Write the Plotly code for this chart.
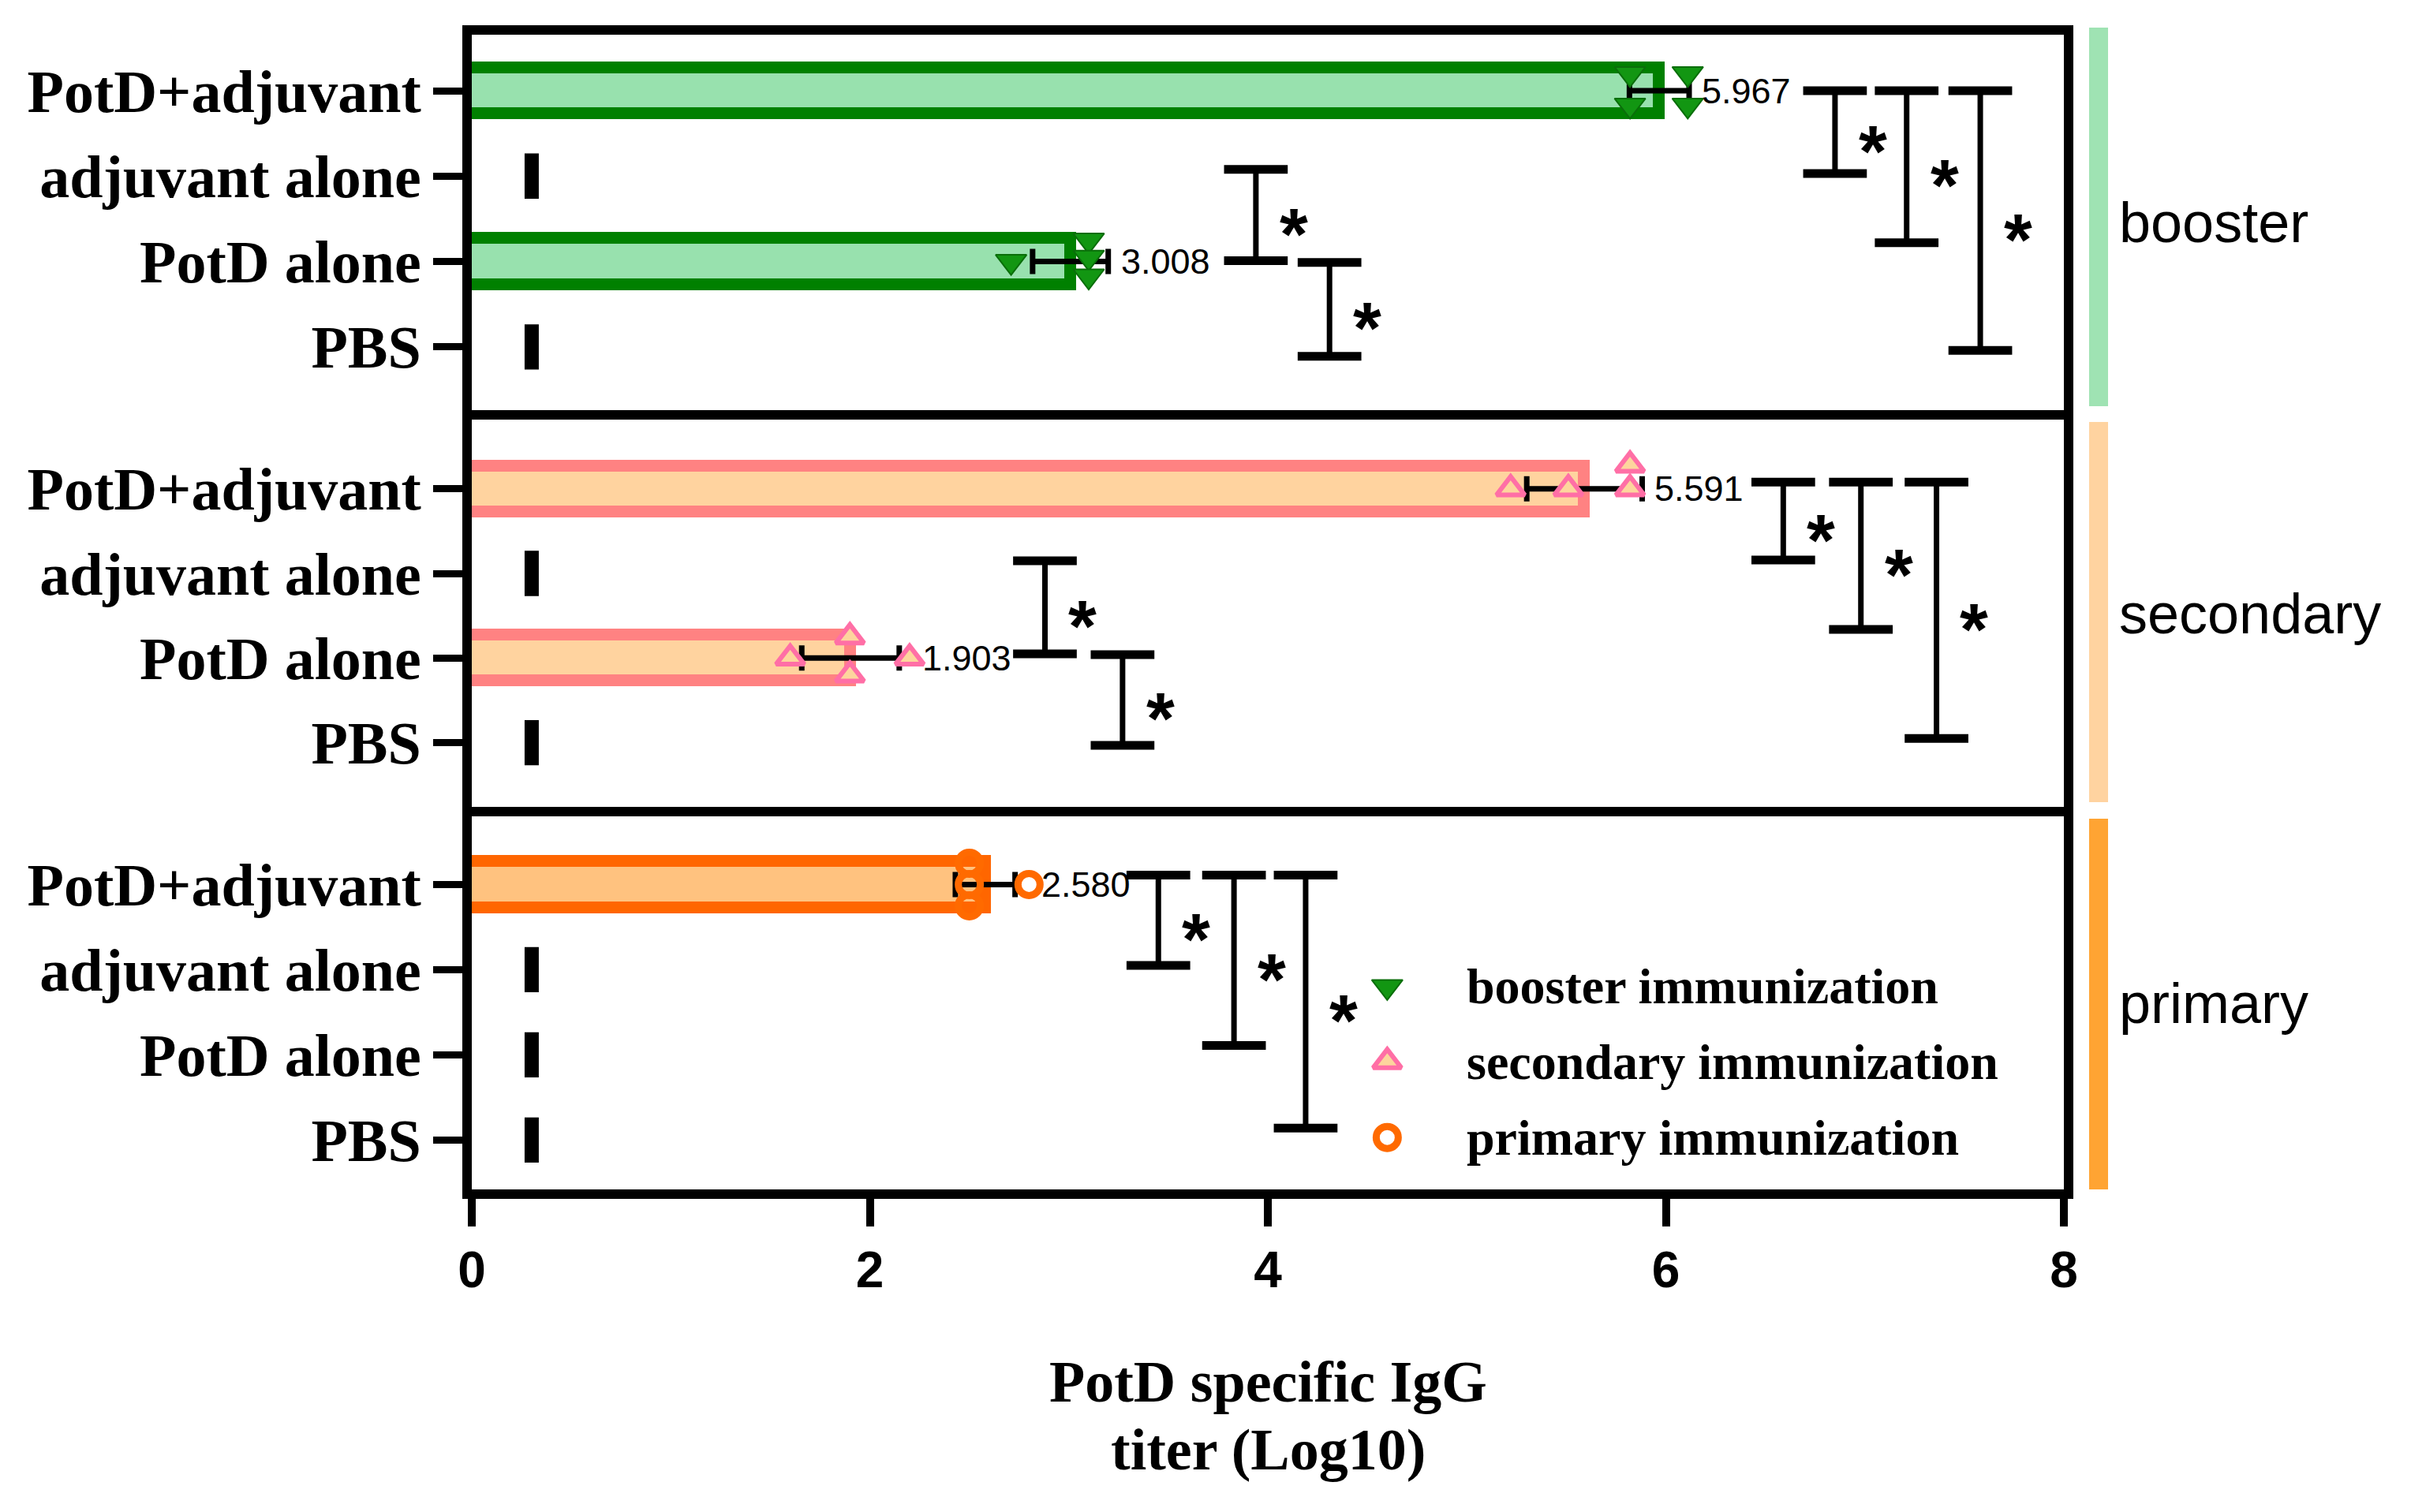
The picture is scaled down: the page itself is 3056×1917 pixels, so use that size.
import plotly.graph_objects as go

# ---------------- data ----------------
panels = ["booster", "secondary", "primary"]
categories = ["PotD+adjuvant", "adjuvant alone", "PotD alone", "PBS"]
lod = 0.301  # detection limit (log10 2)

booster_means = [5.967, 0.301, 3.008, 0.301]
secondary_means = [5.591, 0.301, 1.903, 0.301]
primary_means = [2.580, 0.301, 0.301, 0.301]

booster_sd = [0.15, 0.0, 0.19, 0.0]
secondary_sd = [0.29, 0.0, 0.245, 0.0]
primary_sd = [0.15, 0.0, 0.0, 0.0]

# individual animals (PotD+adjuvant, PotD alone)
booster_pts_adj = [5.82, 5.82, 6.11, 6.11]
booster_pts_potd = [2.71, 3.10, 3.10, 3.10]
secondary_pts_adj = [5.22, 5.51, 5.82, 5.82]
secondary_pts_potd = [1.60, 1.90, 1.90, 2.20]
primary_pts_adj = [2.50, 2.50, 2.50, 2.80]
primary_pts_potd = []

# significance brackets: x of bracket, from-row value, to-row value (row units)
booster_br_x = [6.85, 7.21, 7.58, 3.94, 4.31]
booster_br_from = [3.0, 3.0, 3.0, 2.08, 0.99]
booster_br_to = [2.03, 1.22, -0.04, 1.01, -0.11]
secondary_br_x = [6.59, 6.98, 7.36, 2.88, 3.27]
secondary_br_from = [3.08, 3.08, 3.08, 2.15, 1.04]
secondary_br_to = [2.16, 1.34, 0.05, 1.05, -0.03]
primary_br_x = [3.45, 3.83, 4.19]
primary_br_from = [3.11, 3.11, 3.11]
primary_br_to = [2.05, 1.11, 0.14]

legend_names = ["booster immunization", "secondary immunization", "primary immunization"]
x_ticks = [0, 2, 4, 6, 8]

# ---------------- layout constants ----------------
W, H = 3056, 1917
OFFX, OFFY = 4, 8  # page body offset compensation
PL, PR, PT, PB = 594 - OFFX, 2612 - OFFX, 44 - OFFY, 1508 - OFFY


def px_x(p):
    return (p - OFFX - PL) / (PR - PL)


def px_y(p):
    return (PB - (p - OFFY)) / (PB - PT)


domains = [[px_y(520), 1.0], [px_y(1035), px_y(520)], [0.0, px_y(1035)]]
yranges = [[-0.74, 3.656], [-0.87, 3.93], [-0.58, 3.80]]
rows = [3 - i for i in range(len(categories))]

jitter_adj = [[0.2, -0.17, 0.2, -0.17], [0.0, 0.0, 0.28, 0.0], [0.25, 0.0, -0.25, 0.0]]
jitter_potd = [[0.0, 0.25, 0.05, -0.17], [0.0, 0.25, -0.2, 0.0], []]

bar_fill = ["#98e1ae", "#ffd39f", "#ffc27f"]
bar_edge = ["#008000", "#ff8282", "#ff6600"]
strip_col = ["#9fe3b3", "#ffd3a0", "#ffa433"]
strip_px = [(35, 515), (535, 1017), (1038, 1508)]
EDGE_W = 15
EDGE_PAD = (EDGE_W / 2) / ((PR - PL) / 8.0)  # hides the left border under the axis

marker_styles = [
    dict(symbol="triangle-down", size=34, color="#129612", line=dict(color="#0a6e0a", width=2)),
    dict(symbol="triangle-up", size=31, color="#fdd59d", line=dict(color="#ff6fa6", width=6)),
    dict(symbol="circle-open", size=28, color="#ff6a00", line=dict(color="#ff6a00", width=9)),
]

means_all = [booster_means, secondary_means, primary_means]
sd_all = [booster_sd, secondary_sd, primary_sd]
pts_adj_all = [booster_pts_adj, secondary_pts_adj, primary_pts_adj]
pts_potd_all = [booster_pts_potd, secondary_pts_potd, primary_pts_potd]
br_all = [(booster_br_x, booster_br_from, booster_br_to),
          (secondary_br_x, secondary_br_from, secondary_br_to),
          (primary_br_x, primary_br_from, primary_br_to)]

fig = go.Figure()
annotations = []
shapes = []

SERIF = "Liberation Serif"
SANS = "Liberation Sans"
CAP = 0.16
STAR_DX = 0.19

for i, name in enumerate(panels):
    xa = "x" if i == 0 else f"x{i + 1}"
    ya = "y" if i == 0 else f"y{i + 1}"
    means = means_all[i]
    sds = sd_all[i]

    # bars for groups above detection limit
    bx, by, be = [], [], []
    dx, dy = [], []
    for m, s, r in zip(means, sds, rows):
        if m > lod:
            bx.append(m + EDGE_PAD); by.append(r); be.append(s)
        else:
            dx.append(m); dy.append(r)
    fig.add_trace(go.Bar(
        x=bx, y=by, base=-EDGE_PAD, orientation="h", width=0.54,
        marker=dict(color=bar_fill[i], line=dict(color=bar_edge[i], width=EDGE_W)),
        error_x=dict(type="data", array=be, color="black", thickness=7, width=16),
        xaxis=xa, yaxis=ya, showlegend=False, hoverinfo="skip"))

    # mean dash for groups at detection limit
    fig.add_trace(go.Scatter(
        x=dx, y=dy, mode="markers", xaxis=xa, yaxis=ya, showlegend=False,
        marker=dict(symbol="line-ns", size=41, color="black", line=dict(color="black", width=18)),
        hoverinfo="skip"))

    # individual points
    px_, py_ = [], []
    for v, j in zip(pts_adj_all[i], jitter_adj[i]):
        px_.append(v); py_.append(rows[0] + j)
    for v, j in zip(pts_potd_all[i], jitter_potd[i]):
        px_.append(v); py_.append(rows[2] + j)
    fig.add_trace(go.Scatter(
        x=px_, y=py_, mode="markers", xaxis=xa, yaxis=ya, showlegend=False,
        marker=marker_styles[i], hoverinfo="skip"))

    # mean value labels
    groups_pts = [pts_adj_all[i], [], pts_potd_all[i], []]
    for m, s, r, g in zip(means, sds, rows, groups_pts):
        if m > lod:
            anchor = max([m + s] + g)
            annotations.append(dict(
                x=anchor, y=r, xref=xa, yref=ya, text=f"{m:.3f}", showarrow=False,
                xanchor="left", yanchor="middle", xshift=14,
                font=dict(family=SANS, size=45, color="black")))

    # significance brackets
    bxs, f_, t_ = br_all[i]
    vx, vy, cx, cy = [], [], [], []
    for x0, y0, y1 in zip(bxs, f_, t_):
        vx += [x0, x0, None]; vy += [y0, y1, None]
        cx += [x0 - CAP, x0 + CAP, None, x0 - CAP, x0 + CAP, None]
        cy += [y0, y0, None, y1, y1, None]
        annotations.append(dict(
            x=x0 + STAR_DX, y=(y0 + y1) / 2, xref=xa, yref=ya, text="*", showarrow=False,
            xanchor="center", yanchor="middle", yshift=-24,
            font=dict(family=SANS, size=92, color="black", weight="bold")))
    fig.add_trace(go.Scatter(x=vx, y=vy, mode="lines", line=dict(color="black", width=7),
                             xaxis=xa, yaxis=ya, showlegend=False, hoverinfo="skip"))
    fig.add_trace(go.Scatter(x=cx, y=cy, mode="lines", line=dict(color="black", width=11),
                             xaxis=xa, yaxis=ya, showlegend=False, hoverinfo="skip"))

    # side strip + label
    shapes.append(dict(type="rect", xref="paper", yref="paper",
                       x0=px_x(2644), x1=px_x(2668),
                       y0=px_y(strip_px[i][1]), y1=px_y(strip_px[i][0]),
                       fillcolor=strip_col[i], line=dict(width=0), layer="below"))
    annotations.append(dict(
        x=px_x(2680), y=0.5, xref="paper", yref=f"{ya} domain", text=name, showarrow=False,
        xanchor="left", yanchor="middle", font=dict(family=SANS, size=72, color="black")))

# manual legend (inside primary panel)
leg_x_marker, leg_x_text = 4.60, 4.99
leg_rows = [1.80, 0.92, 0.03]
for k, nm in enumerate(legend_names):
    fig.add_trace(go.Scatter(
        x=[leg_x_marker], y=[leg_rows[k]], mode="markers", xaxis="x3", yaxis="y3",
        marker=marker_styles[k], showlegend=False, hoverinfo="skip"))
    annotations.append(dict(
        x=leg_x_text, y=leg_rows[k], xref="x3", yref="y3", text=nm, showarrow=False,
        xanchor="left", yanchor="middle",
        font=dict(family=SERIF, size=64, color="black", weight="bold")))

# x-axis title (two lines)
for txt, py in [("PotD specific IgG", 1752), ("titer (Log10)", 1838)]:
    annotations.append(dict(
        x=0.5, y=px_y(py), xref="paper", yref="paper", text=txt, showarrow=False,
        xanchor="center", yanchor="middle",
        font=dict(family=SERIF, size=74, color="black", weight="bold")))

axis_common = dict(showgrid=False, zeroline=False, linecolor="black", linewidth=12)
layout = dict(
    width=W, height=H,
    margin=dict(l=PL, r=W - PR, t=PT, b=H - PB, pad=0),
    paper_bgcolor="white", plot_bgcolor="rgba(0,0,0,0)",
    showlegend=False, bargap=0,
    annotations=annotations, shapes=shapes,
)
for i in range(3):
    xk = "xaxis" if i == 0 else f"xaxis{i + 1}"
    yk = "yaxis" if i == 0 else f"yaxis{i + 1}"
    ya = "y" if i == 0 else f"y{i + 1}"
    xa = "x" if i == 0 else f"x{i + 1}"
    xd = dict(axis_common, domain=[0, 1], anchor=ya, range=[0, 8])
    if i > 0:
        xd["matches"] = "x"
    if i == 0:
        xd.update(showline=True, mirror=True, showticklabels=False, ticks="")
    elif i == 1:
        xd.update(showline=False, showticklabels=False, ticks="")
    else:
        xd.update(showline=True, mirror=True, ticks="outside", ticklen=35, tickwidth=10,
                  tickcolor="black", tickvals=x_ticks, ticktext=[str(t) for t in x_ticks],
                  tickfont=dict(family=SANS, size=64, color="black", weight="bold"))
    layout[xk] = xd
    layout[yk] = dict(axis_common, domain=domains[i], anchor=xa, range=yranges[i],
                      showline=True, mirror=True, ticks="outside", ticklen=37, tickwidth=9,
                      tickcolor="black", tickvals=rows, ticktext=categories,
                      tickfont=dict(family=SERIF, size=76, color="black", weight="bold"))

fig.update_layout(**layout)
fig.write_html("out.html")
